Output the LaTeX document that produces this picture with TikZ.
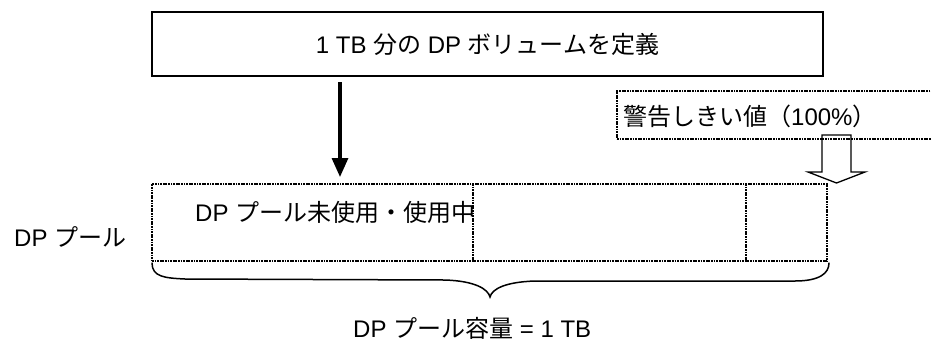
\documentclass[tikz,border=0pt]{standalone}
\usepackage{fontspec}
\setmainfont{Liberation Sans}
\newfontfamily\jp{Noto Sans CJK JP}
\usetikzlibrary{arrows.meta,positioning}

\tikzset{
  lbl/.style={inner sep=0pt, font=\fontsize{24}{28}\selectfont},
  topbox/.style={draw, line width=1.3pt, outer sep=0pt, inner sep=0pt},
  dotline/.style={line width=1.7pt, dash pattern=on 1.8pt off 0.8pt},
  dotbox/.style={draw, dotline, outer sep=0pt, inner sep=0pt},
  feed/.style={line width=3.2pt, -{Triangle[length=19pt,width=16pt]}},
  hollowarrow/.style={draw, line width=1.3pt, line join=miter},
  bracecurve/.style={line width=1.5pt, line cap=round}
}

\begin{document}
\begin{tikzpicture}[x=1pt,y=-1pt]
\useasboundingbox (0,0) rectangle (931,341);

% volume definition
\node[topbox, minimum width=671pt, minimum height=64pt] (define) at (487.5,44) {};
\node[lbl] (defText) at (define.center) {1 TB {\jp 分の} DP {\jp ボリュームを定義}};

% warning threshold
\node[dotbox, anchor=north west, minimum width=420pt, minimum height=48pt] (warn) at (617,91) {};
\node[lbl, anchor=west] (warnText) at (623,116) {{\jp 警告しきい値（}100\%{\jp ）}};

% pool
\node[dotbox, anchor=north west, minimum width=675pt, minimum height=77pt] (pool) at (152,184) {};
\coordinate (divA) at (473,0);
\coordinate (divB) at (746,0);
\draw[dotline] (pool.north -| divA) -- (pool.south -| divA);
\draw[dotline] (pool.north -| divB) -- (pool.south -| divB);
\node[lbl, anchor=west] (poolText) at (195,212) {DP {\jp プール未使用・使用中}};
\node[lbl, anchor=west] (poolName) at (14,237) {DP {\jp プール}};

% arrows
\coordinate (arrowX) at (340,0);
\draw[feed, shorten <=6pt, shorten >=7pt] (define.south -| arrowX) -- (pool.north -| arrowX);
\coordinate (hollowTop) at (836.5,135);
\draw[hollowarrow] (hollowTop) ++(-14.5,0) -- ++(0,37) -- ++(-14,0) -- ++(28.5,11)
  -- ++(28.5,-11) -- ++(-14,0) -- ++(0,-37) -- cycle;

% capacity brace
\draw[bracecurve] (152,263) .. controls +(0,14) and +(-20,-1) .. (185,279) -- (445,280)
  .. controls +(30,1) and +(-2,-8) .. (490,297)
  .. controls +(2,-8) and +(-30,1) .. (535,281) -- (795,281)
  .. controls +(25,0) and +(0,10) .. (829,263);
\node[lbl, anchor=west] (capText) at (353,328) {DP {\jp プール容量} = 1 TB};
\end{tikzpicture}
\end{document}
